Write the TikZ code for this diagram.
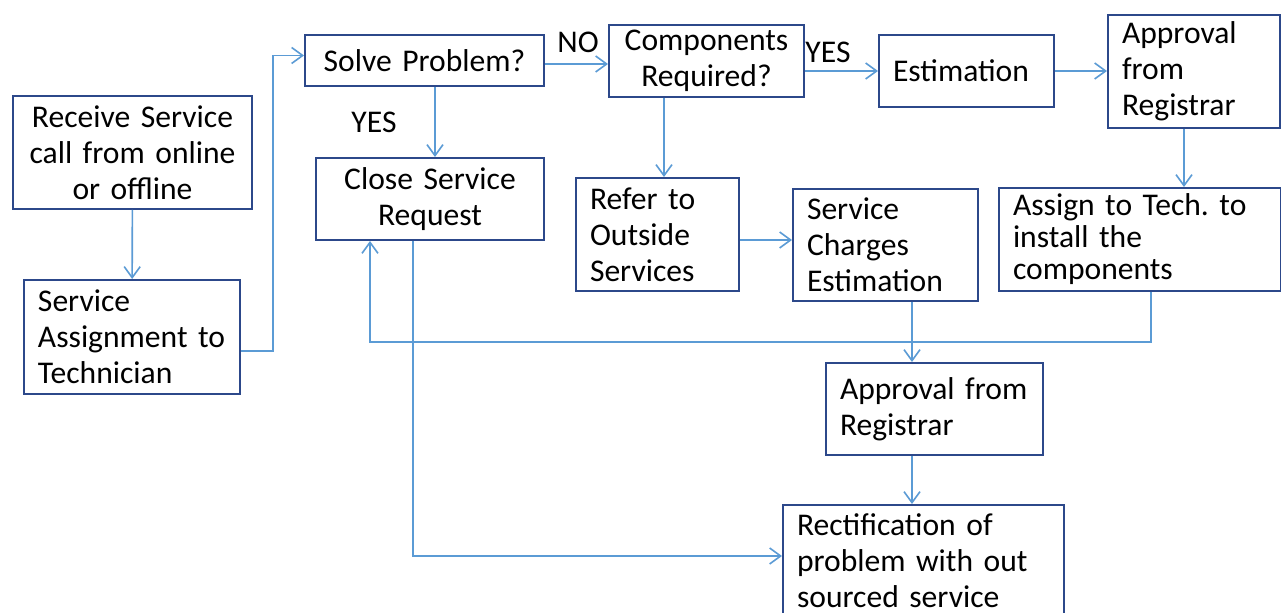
\documentclass[tikz,border=0pt]{standalone}
\usepackage{fontspec}
\setmainfont{Carlito}
\usepackage{tikz}
\usetikzlibrary{positioning,arrows.meta}
\definecolor{boxline}{RGB}{44,72,138}
\definecolor{flowline}{RGB}{91,155,213}

\begin{document}
\begin{tikzpicture}[x=0.5pt, y=-0.5pt,
		box/.style={draw=boxline, line width=1pt, inner xsep=7pt, inner ysep=2pt, anchor=north west, font=\fontsize{15.8}{18}\selectfont},
		lbox/.style={box, align=left},
		cbox/.style={box, align=center},
		flow/.style={draw=flowline, line width=0.8pt, -{Straight Barb[length=5.5pt, width=8pt]}},
		tag/.style={inner sep=0pt, font=\fontsize{15.8}{18}\selectfont}]
			\fill[white] (0,0) rectangle (1281,613) ;
			\useasboundingbox (0,0) rectangle (1281,613) ;
			\node[cbox, text width=105.5pt, minimum height=56.5pt] (Receive) at (12,95) {Receive Service\\call from online\\or offline} ;
			\node[lbox, text width=94pt, minimum height=57pt] (Assignment) at (23,279) {Service\\Assignment~to\\Technician} ;
			\node[cbox, text width=105.5pt, minimum height=25.5pt] (Solve) at (304,34) {Solve Problem?} ;
			\node[cbox, text width=100pt, minimum height=41pt] (Close) at (315,157) {Close Service\\Request} ;
			\node[cbox, text width=83.5pt, minimum height=36pt] (Components) at (608,24) {Components\\Required?} ;
			\node[lbox, text width=73.5pt, minimum height=36pt] (Estimation) at (878,34) {Estimation} ;
			\node[lbox, text width=72pt, minimum height=56.5pt] (Approval) at (1107,14) {Approval\\from\\Registrar} ;
			\node[lbox, text width=127pt, minimum height=51.5pt, inner ysep=0pt, font=\fontsize{15.8}{16}\selectfont] (Assign) at (998,187) {Assign to Tech.\ to\\install the\\components} ;
			\node[lbox, text width=67.5pt, minimum height=56.5pt] (Refer) at (575,177) {Refer to\\Outside\\Services} ;
			\node[lbox, text width=78.5pt, minimum height=56pt] (Charges) at (792,188) {Service\\Charges\\Estimation} ;
			\node[lbox, text width=94.5pt, minimum height=46pt] (ApprovalTwo) at (825,362) {Approval~from\\Registrar} ;
			\node[lbox, text width=126.5pt, inner ysep=4.5pt] (Rectification) at (782,504) {Rectification of\\problem with out\\sourced service\rule[-12pt]{0pt}{12pt}} ;
			\node[tag] (No) at (578,42) {NO} ;
			\node[tag] (YesLeft) at (374,122) {YES} ;
			\node[tag] (YesRight) at (828,52) {YES} ;
			\coordinate (Bend) at (273,351) ;
			\coordinate (Lane) at (912,0) ;
			\coordinate (LoopR) at (1151,342) ;
			\coordinate (LoopL) at (370,342) ;
			\coordinate (Corner) at (413,556) ;
			\draw[flow] (Receive) -- (Assignment) ;
			\draw[flow] (Assignment.east |- Bend) -- (Bend) |- ([yshift=2.5pt]Solve.west) ;
			\draw[flow] ([yshift=-1.75pt]Solve.east) -- ([yshift=-1.75pt]Solve.east -| Components.west) ;
			\draw[flow] ([xshift=2.5pt]Close.north |- Solve.south) -- ([xshift=2.5pt]Close.north) ;
			\draw[flow] (Components.east |- Estimation.west) -- (Estimation.west) ;
			\draw[flow] (Estimation.east) -- (Estimation.east -| Approval.west) ;
			\draw[flow] ([xshift=-5pt]Approval.south) -- ([xshift=-5pt]Approval.south |- Assign.north) ;
			\draw[flow] ([xshift=3.25pt]Refer.north |- Components.south) -- ([xshift=3.25pt]Refer.north) ;
			\draw[flow] ([yshift=-2.75pt]Refer.east) -- ([yshift=-2.75pt]Refer.east -| Charges.west) ;
			\draw[flow] (Charges.south -| Lane) -- (ApprovalTwo.north -| Lane) ;
			\draw[flow] (ApprovalTwo.south -| Lane) -- (Rectification.north -| Lane) ;
			\draw[flow] (Assign.south -| LoopR) -- (LoopR) -- (LoopL) -- (Close.south -| LoopL) ;
			\draw[flow] (Close.south -| Corner) -- (Corner) -- (Rectification.west |- Corner) ;
		\end{tikzpicture}
\end{document}
